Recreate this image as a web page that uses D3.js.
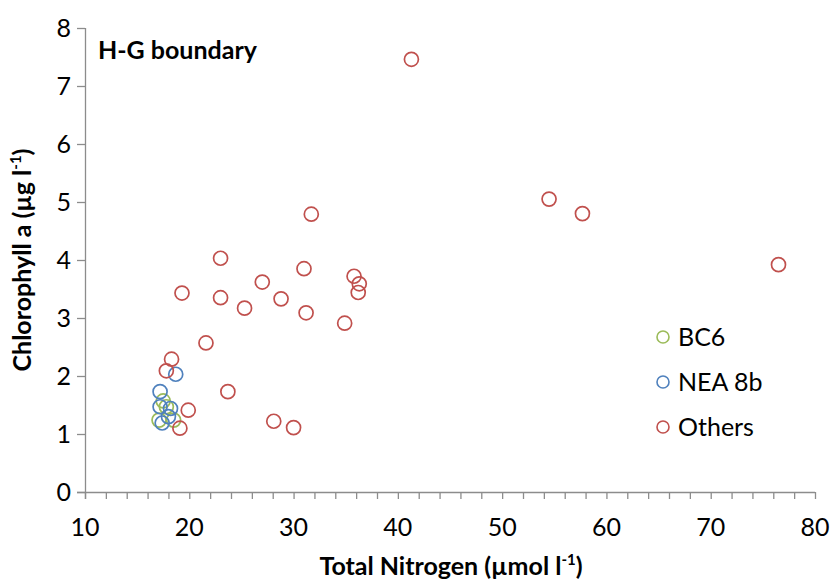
<!DOCTYPE html>
<html>
<head>
<meta charset="utf-8">
<script src="https://cdn.jsdelivr.net/npm/d3@7"></script>
<style>
  body { margin: 0; background: #fff; }
  svg { font-family: Lato, "Open Sans", sans-serif; }
</style>
</head>
<body>
<svg></svg>
<script>
// chart size
var width = 832;
var height = 579;

// data (total nitrogen, chlorophyll a)
var bc6N = [17.5, 17.8, 17.1, 18.5];
var bc6Chl = [1.57, 1.47, 1.24, 1.24];

var neaN = [18.7, 17.2, 17.2, 18.2, 18.0, 17.4];
var neaChl = [2.03, 1.73, 1.47, 1.44, 1.30, 1.19];

var othersN = [41.3, 54.5, 57.7, 76.5, 31.7, 23.0, 31.0, 27.0, 35.8, 36.3, 36.2, 19.3, 23.0, 28.8,
  25.3, 31.2, 34.9, 21.6, 23.7, 18.3, 17.8, 19.9, 28.1, 30.0, 19.1];
var othersChl = [7.46, 5.05, 4.80, 3.92, 4.79, 4.03, 3.85, 3.62, 3.72, 3.59, 3.44, 3.43, 3.35, 3.33,
  3.17, 3.09, 2.91, 2.57, 1.73, 2.29, 2.09, 1.41, 1.22, 1.11, 1.10];

var seriesNames = ["BC6", "NEA 8b", "Others"];
var seriesColors = ["#9BBB59", "#4F81BD", "#C0504D"];
var xTicks = [10, 20, 30, 40, 50, 60, 70, 80];
var yTicks = [0, 1, 2, 3, 4, 5, 6, 7, 8];

var series = [
  { name: seriesNames[0], color: seriesColors[0], n: bc6N, chl: bc6Chl },
  { name: seriesNames[1], color: seriesColors[1], n: neaN, chl: neaChl },
  { name: seriesNames[2], color: seriesColors[2], n: othersN, chl: othersChl }
];

var plotLeft = 85, plotRight = 815, plotTop = 28, plotBottom = 492;
var axisColor = "#8c8c8c";
var fontSize = 25;

var svg = d3.select("svg")
  .attr("width", width)
  .attr("height", height);

var x = d3.scaleLinear().domain([10, 80]).range([plotLeft, plotRight]);
var y = d3.scaleLinear().domain([0, 8]).range([plotBottom, plotTop]);

// x axis with minor ticks every 2
var xAxis = svg.append("g")
  .attr("transform", "translate(0," + plotBottom + ")")
  .call(d3.axisBottom(x).tickValues(d3.range(10, 81, 2)).tickSize(7).tickFormat(""));
xAxis.select(".domain").attr("d", "M" + (plotLeft - 8) + ",0.5H" + plotRight);

// y axis
var yAxis = svg.append("g")
  .attr("transform", "translate(" + plotLeft + ",0)")
  .call(d3.axisLeft(y).tickValues(yTicks).tickSize(8).tickFormat(""));
yAxis.select(".domain").attr("d", "M0.5," + plotTop + "V" + (plotBottom + 7));

svg.selectAll(".domain, .tick line")
  .attr("stroke", axisColor)
  .attr("stroke-width", 1.3);

// tick labels
svg.append("g").selectAll("text")
  .data(xTicks)
  .join("text")
  .attr("x", function(d) { return x(d); })
  .attr("y", 536)
  .attr("text-anchor", "middle")
  .attr("font-size", fontSize)
  .attr("fill", "#000")
  .text(function(d) { return d; });

svg.append("g").selectAll("text")
  .data(yTicks)
  .join("text")
  .attr("x", 71)
  .attr("y", function(d) { return y(d) + 9; })
  .attr("text-anchor", "end")
  .attr("font-size", fontSize)
  .attr("fill", "#000")
  .text(function(d) { return d; });

// axis titles
var xTitle = svg.append("text")
  .attr("x", 451)
  .attr("y", 575)
  .attr("text-anchor", "middle")
  .attr("font-size", fontSize)
  .attr("font-weight", "bold")
  .text("Total Nitrogen (µmol l");
xTitle.append("tspan").attr("font-size", 15).attr("dy", -10).text("-1");
xTitle.append("tspan").attr("dy", 10).text(")");

var yTitle = svg.append("text")
  .attr("transform", "translate(31,260) rotate(-90)")
  .attr("text-anchor", "middle")
  .attr("font-size", fontSize)
  .attr("font-weight", "bold")
  .text("Chlorophyll a (µg l");
yTitle.append("tspan").attr("font-size", 15).attr("dy", -10).text("-1");
yTitle.append("tspan").attr("dy", 10).text(")");

// panel label
svg.append("text")
  .attr("x", 98)
  .attr("y", 59)
  .attr("font-size", fontSize)
  .attr("font-weight", "bold")
  .text("H-G boundary");

// points
series.forEach(function(s) {
  svg.append("g").selectAll("circle")
    .data(d3.range(s.n.length))
    .join("circle")
    .attr("cx", function(i) { return x(s.n[i]); })
    .attr("cy", function(i) { return y(s.chl[i]); })
    .attr("r", 7)
    .attr("fill", "none")
    .attr("stroke", s.color)
    .attr("stroke-width", 1.7);
});

// legend
var legend = svg.append("g").selectAll("g")
  .data(series)
  .join("g")
  .attr("transform", function(d, i) { return "translate(663," + (337 + i * 45) + ")"; });
legend.append("circle")
  .attr("r", 6)
  .attr("fill", "none")
  .attr("stroke", function(d) { return d.color; })
  .attr("stroke-width", 1.6);
legend.append("text")
  .attr("x", 15)
  .attr("y", 9)
  .attr("font-size", fontSize)
  .text(function(d) { return d.name; });
</script>
</body>
</html>
